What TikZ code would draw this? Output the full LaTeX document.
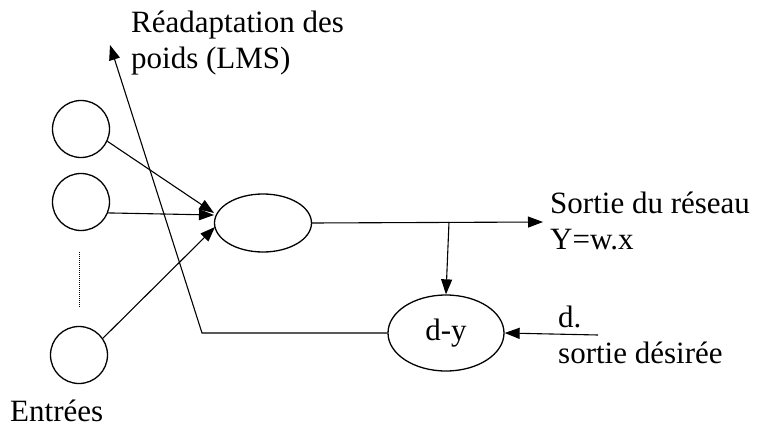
\documentclass[tikz,border=0pt]{standalone}
\usepackage{fontspec}
\setmainfont{Liberation Serif}
\usetikzlibrary{arrows.meta,shapes.geometric}
\begin{document}
\begin{tikzpicture}[x=1pt,y=-1pt,
  every node/.style={font=\fontsize{31}{36}\selectfont},
  unit/.style={draw,circle,minimum size=57pt,inner sep=0pt,line width=1.3pt},
  oval/.style={draw,ellipse,inner sep=0pt,line width=1.3pt},
  conn/.style={line width=1.1pt,-{Triangle[length=15pt,width=11pt]}},
  lbl/.style={inner sep=0pt,align=left}]
\useasboundingbox (0,0) rectangle (758,428);
\node[unit] (c1) at (81,129) {};
\node[unit] (c2) at (81,202) {};
\node[unit] (c3) at (79,355) {};
\node[oval,minimum width=97pt,minimum height=58pt] (neuron) at (263,223) {};
\node[oval,minimum width=116pt,minimum height=76pt] (dy) at (446,333) {d-y};
\coordinate (t1) at (214,213);
\coordinate (t2) at (214,215);
\coordinate (t3) at (215,227);
\coordinate (j) at (449,222);
\coordinate (out) at (543,222);
\coordinate (bend) at (202,333);
\coordinate (lms) at (110,45);
\coordinate (din) at (598,335);
\coordinate (dtop) at (79,252);
\coordinate (dbot) at (79,308);
\draw[conn] (c1.-25) -- (t1);
\draw[conn] (c2.-22) -- (t2);
\draw[conn] (c3.35) -- (t3);
\draw[conn] (neuron.east) -- (out);
\draw[conn] (j) -- (dy.north);
\draw[conn] (dy.west) -- (bend) -- (lms);
\draw[conn] (din) -- (dy.east);
\draw[line width=1pt,dash pattern=on 1pt off 1pt] (dtop) -- (dbot);
\node[lbl,anchor=west] (readapt) at (131,43) {Réadaptation des\\poids (LMS)};
\node[lbl,anchor=west] (sortie) at (550,221) {Sortie du réseau\\Y=w.x};
\node[lbl,anchor=west] (desire) at (558,335) {d.\\sortie désirée};
\node[lbl,anchor=base west,text depth=0pt] (entrees) at (10,421) {Entrées};
\end{tikzpicture}
\end{document}
